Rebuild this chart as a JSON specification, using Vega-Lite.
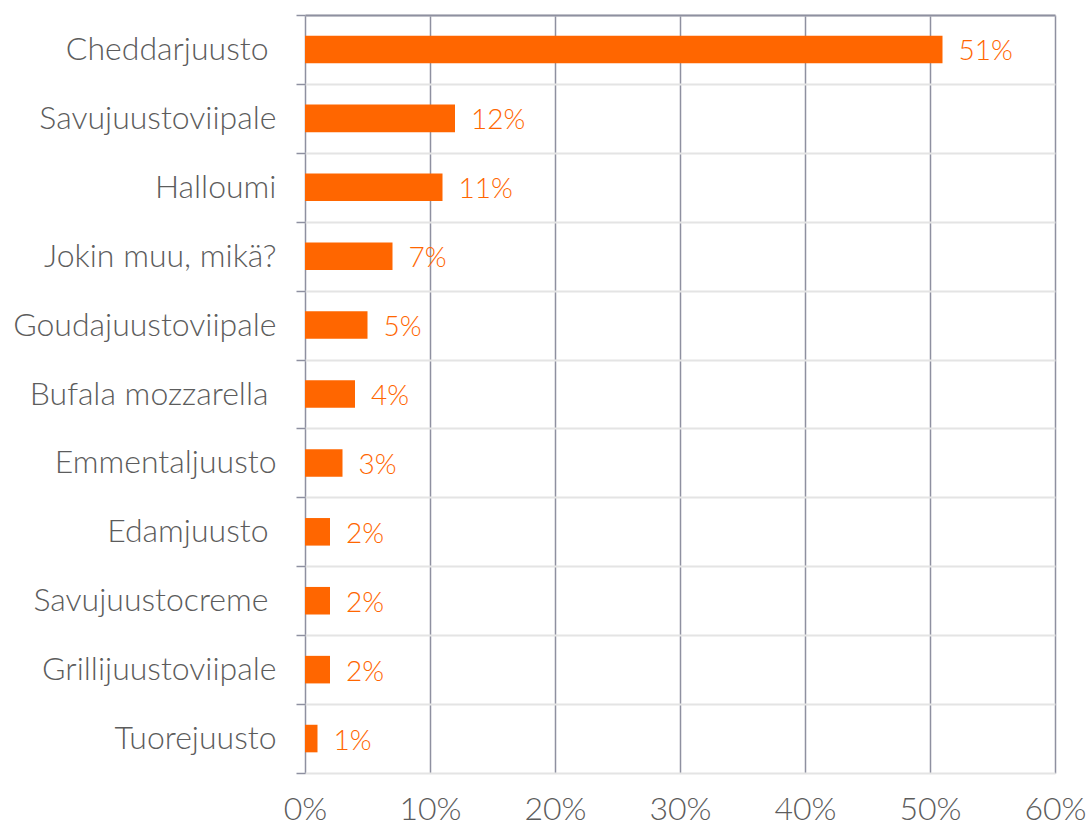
{
  "$schema": "https://vega.github.io/schema/vega-lite/v6.json",
  "autosize": "none",
  "width": 750,
  "height": 758,
  "padding": {"left": 305, "top": 15, "right": 36, "bottom": 55},
  "background": "white",
  "config": {"view": {"stroke": null}, "font": "Lato"},
  "data": {
    "values": [
      {"cheese": "Cheddarjuusto", "value": 51, "label": "51%"},
      {"cheese": "Savujuustoviipale", "value": 12, "label": "12%"},
      {"cheese": "Halloumi", "value": 11, "label": "11%"},
      {"cheese": "Jokin muu, mikä?", "value": 7, "label": "7%"},
      {"cheese": "Goudajuustoviipale", "value": 5, "label": "5%"},
      {"cheese": "Bufala mozzarella", "value": 4, "label": "4%"},
      {"cheese": "Emmentaljuusto", "value": 3, "label": "3%"},
      {"cheese": "Edamjuusto", "value": 2, "label": "2%"},
      {"cheese": "Savujuustocreme", "value": 2, "label": "2%"},
      {"cheese": "Grillijuustoviipale", "value": 2, "label": "2%"},
      {"cheese": "Tuorejuusto", "value": 1, "label": "1%"}
    ]
  },
  "encoding": {
    "y": {
      "field": "cheese",
      "type": "nominal",
      "sort": null,
      "title": null,
      "scale": {"paddingInner": 0, "paddingOuter": 0},
      "axis": {
        "tickBand": "extent",
        "grid": true,
        "gridColor": "#e4e4e4",
        "gridWidth": 2,
        "domain": false,
        "ticks": true,
        "tickSize": 9,
        "tickColor": "#8e90a0",
        "tickWidth": 1.5,
        "labelFont": "Lato",
        "labelFontSize": 32,
        "labelFontWeight": 300,
        "labelColor": "#5c5c5c",
        "labelPadding": {
          "condition": {"test": "indexof(['Cheddarjuusto','Bufala mozzarella','Edamjuusto','Savujuustocreme'], datum.value) >= 0", "value": 28},
          "value": 20
        },
        "labelLimit": 400
      }
    }
  },
  "layer": [
    {
      "mark": {"type": "bar", "color": "#FF6600", "height": {"band": 0.4}},
      "encoding": {
        "x": {
          "field": "value",
          "type": "quantitative",
          "title": null,
          "scale": {"domain": [0, 60], "nice": false},
          "axis": {
            "orient": "bottom",
            "values": [0, 10, 20, 30, 40, 50, 60],
            "labelExpr": "datum.value + '%'",
            "labelFlush": false,
            "grid": true,
            "gridColor": "#8e90a0",
            "gridWidth": 1.5,
            "domain": false,
            "ticks": false,
            "labelFont": "Lato",
            "labelFontSize": 32,
            "labelFontWeight": 300,
            "labelColor": "#5c5c5c",
            "labelPadding": 21
          }
        }
      }
    },
    {
      "mark": {"type": "text", "align": "left", "baseline": "middle", "dx": 16, "dy": 3, "fontSize": 28, "fontWeight": 300, "font": "Lato", "color": "#FF6600"},
      "encoding": {
        "x": {
          "field": "value",
          "type": "quantitative",
          "title": null,
          "scale": {"domain": [0, 60], "nice": false},
          "axis": {
            "orient": "top",
            "labels": false,
            "ticks": false,
            "grid": false,
            "domain": true,
            "domainColor": "#8e90a0",
            "domainWidth": 2
          }
        },
        "text": {"field": "label", "type": "nominal"}
      }
    }
  ],
  "resolve": {"axis": {"x": "independent"}}
}
